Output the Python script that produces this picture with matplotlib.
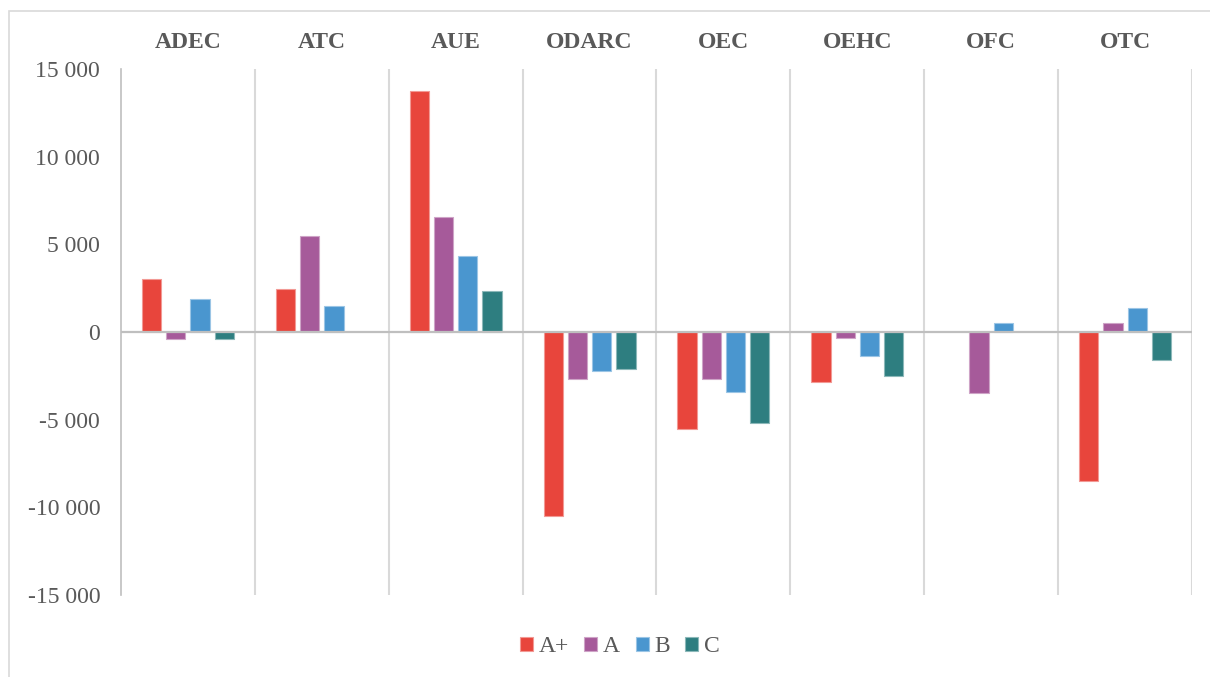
import numpy as np
import matplotlib
matplotlib.use("Agg")
import matplotlib.pyplot as plt
import matplotlib.transforms as mtransforms
from matplotlib.patches import Rectangle
from matplotlib.colors import to_rgb
from matplotlib.ticker import FuncFormatter

categories = ["ADEC", "ATC", "AUE", "ODARC", "OEC", "OEHC", "OFC", "OTC"]
series_names = ["A+", "A", "B", "C"]

vals_a_plus = [3000, 2450, 13730, -10500, -5550, -2840, np.nan, -8520]
vals_a = [-400, 5470, 6550, -2690, -2690, -340, -3460, 510]
vals_b = [1900, 1480, 4340, -2220, -3430, -1380, 530, 1370]
vals_c = [-400, np.nan, 2330, -2120, -5190, -2520, np.nan, -1570]

y_ticks = [-15000, -10000, -5000, 0, 5000, 10000, 15000]

colors = ["#E8453C", "#A65A9A", "#4A96CF", "#2E7E80"]
text_gray = "#595959"

plt.rcParams["font.family"] = ["Liberation Serif", "DejaVu Serif"]

fig = plt.figure(figsize=(12.1, 6.77), dpi=100)
ax = fig.add_axes([0.1, 0.1211, 0.8851, 0.7769])

x = np.arange(len(categories))
bar_w = 0.144
step = 0.181
offsets = [-1.5 * step, -0.5 * step, 0.5 * step, 1.5 * step]
all_series = [vals_a_plus, vals_a, vals_b, vals_c]

handles = []
for vals, off, col, name in zip(all_series, offsets, colors, series_names):
    rgb = np.array(to_rgb(col))
    edge = tuple(rgb + (1 - rgb) * 0.45)
    bars = ax.bar(x + off, vals, width=bar_w, color=col, edgecolor=edge,
                  linewidth=0.8, label=name, zorder=3)
    handles.append(bars)

ax.set_xlim(-0.5, len(categories) - 0.5)
ax.set_ylim(-15000, 15000)

# category separators and zero line
for k in range(len(categories)):
    ax.axvline(k + 0.5, color="#D9D9D9", linewidth=1.5, zorder=1)
ax.axhline(0, color="#BFBFBF", linewidth=1.6, zorder=4)

for s in ["top", "right", "bottom"]:
    ax.spines[s].set_visible(False)
ax.spines["left"].set_color("#BFBFBF")
ax.spines["left"].set_linewidth(1.2)

ax.set_xticks([])
ax.set_yticks(y_ticks)
ax.yaxis.set_major_formatter(
    FuncFormatter(lambda v, p: f"{int(v):,}".replace(",", " ")))
ax.tick_params(axis="y", length=0, pad=15, labelsize=17, labelcolor=text_gray)

# category labels along the top
trans = mtransforms.blended_transform_factory(ax.transData, fig.transFigure)
for xi, cat in zip(x, categories):
    ax.text(xi, 1 - 42 / 677, cat, transform=trans, ha="center", va="center",
            fontsize=17, fontweight="bold", color=text_gray)

leg = fig.legend(handles=handles, labels=series_names, loc="center",
                 bbox_to_anchor=(620 / 1210, 1 - 647 / 677), ncol=4,
                 frameon=False, fontsize=17, handlelength=0.55,
                 handleheight=0.55, handletextpad=0.25, columnspacing=0.65,
                 borderaxespad=0)
for t in leg.get_texts():
    t.set_color(text_gray)

# outer chart frame
fig.patches.append(Rectangle((9 / 1210, -0.05), 1.2, 1 - 11 / 677 + 0.05,
                             transform=fig.transFigure, fill=False,
                             edgecolor="#D9D9D9", linewidth=1.2))

fig.savefig("out.png", dpi=100, facecolor="white")
